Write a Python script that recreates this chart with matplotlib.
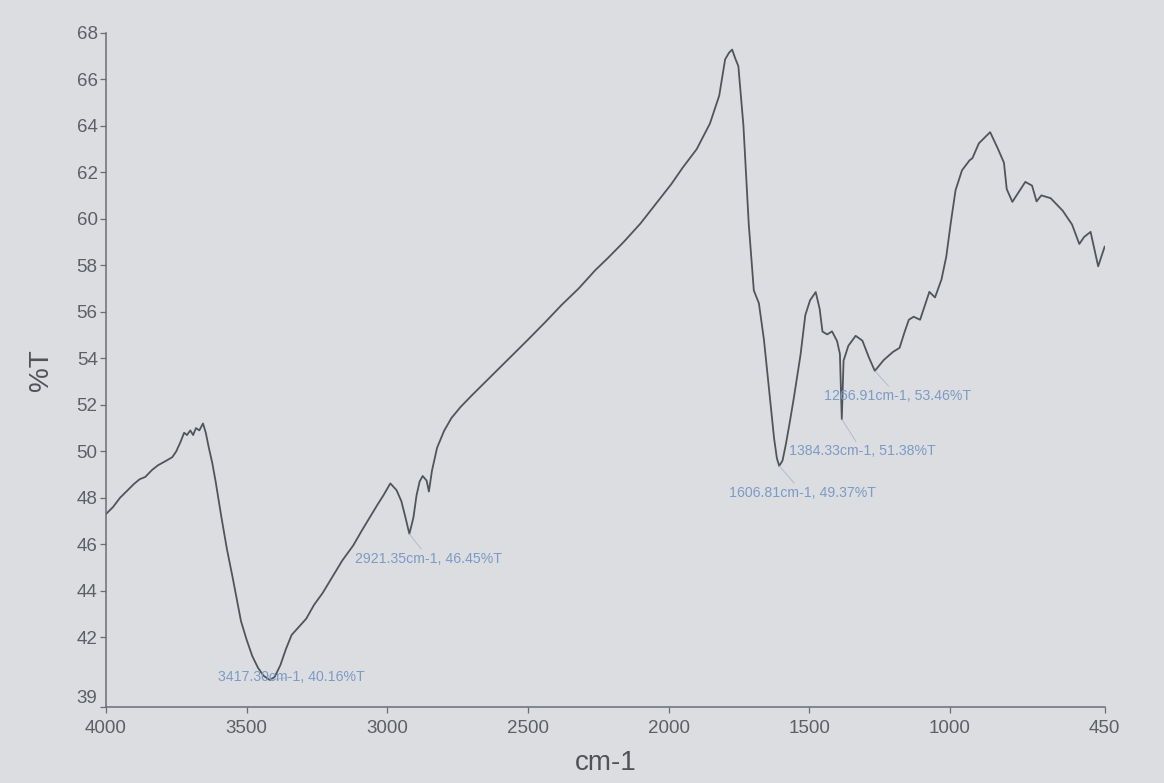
import matplotlib.pyplot as plt

# FTIR spectrum, %T against wavenumber
wavenumber = [
    4000, 3975, 3950, 3925, 3900, 3880, 3860, 3836, 3815, 3800, 3785, 3764,
    3750, 3735, 3722, 3712, 3700, 3690, 3680, 3668, 3655, 3645, 3635, 3622,
    3610, 3590, 3570, 3550, 3520, 3500, 3480, 3460, 3440, 3417.30, 3400, 3380,
    3360, 3340, 3310, 3288, 3260, 3230, 3190, 3160, 3121, 3090, 3060, 3035,
    3014, 2989, 2967, 2950, 2935, 2921.35, 2907, 2896, 2885, 2874, 2860, 2852,
    2841, 2823, 2798, 2772, 2740, 2700, 2650, 2600, 2550, 2500, 2435, 2380,
    2320, 2260, 2217, 2160, 2100, 2035, 1990, 1950, 1900, 1853, 1820, 1799,
    1785, 1774, 1763, 1752, 1734, 1715, 1697, 1679, 1661, 1643, 1625, 1615,
    1606.81, 1595, 1583, 1570, 1555, 1531, 1514, 1497, 1477, 1463, 1453, 1436,
    1419, 1401, 1391, 1384.33, 1378, 1361, 1335, 1311, 1288, 1266.91, 1235,
    1202, 1179, 1162, 1146, 1129, 1106, 1073, 1053, 1030, 1013, 997, 980, 957,
    930, 920, 897, 857, 831, 808, 798, 778, 755, 732, 708, 692, 675, 642, 599,
    566, 540, 523, 500, 473, 450,
]
transmittance = [
    47.3, 47.6, 48.0, 48.3, 48.6, 48.8, 48.9, 49.2, 49.4, 49.5, 49.6, 49.75,
    50.0, 50.4, 50.8, 50.7, 50.9, 50.7, 51.0, 50.9, 51.2, 50.8, 50.2, 49.5,
    48.7, 47.2, 45.8, 44.6, 42.7, 41.9, 41.2, 40.7, 40.35, 40.16, 40.3, 40.8,
    41.5, 42.1, 42.5, 42.8, 43.4, 43.9, 44.7, 45.3, 45.95, 46.6, 47.2, 47.7,
    48.1, 48.62, 48.33, 47.86, 47.14, 46.45, 47.15, 48.1, 48.7, 48.94, 48.74, 48.27,
    49.17, 50.15, 50.88, 51.43, 51.9, 52.4, 53.0, 53.6, 54.2, 54.8, 55.6, 56.3,
    57.0, 57.8, 58.3, 59.0, 59.8, 60.8, 61.5, 62.2, 63.0, 64.1, 65.3, 66.86,
    67.15, 67.28, 66.9, 66.57, 64.02, 59.77, 56.92, 56.37, 54.8, 52.68, 50.56, 49.7,
    49.37, 49.6, 50.31, 51.2, 52.28, 54.15, 55.86, 56.5, 56.85, 56.13, 55.15, 55.03,
    55.16, 54.74, 54.19, 51.38, 53.9, 54.54, 54.97, 54.76, 54.04, 53.46, 53.93,
    54.28, 54.45, 55.1, 55.66, 55.79, 55.66, 56.86, 56.62, 57.39, 58.37, 59.82, 61.23, 62.09,
    62.52, 62.61, 63.25, 63.73, 63.06, 62.42, 61.28, 60.73, 61.16, 61.59, 61.43, 60.75, 61.01, 60.89, 60.35,
    59.76, 58.92, 59.22, 59.44, 57.96, 58.8,
]

# picked peaks
peak_wn = [3417.30, 2921.35, 1606.81, 1384.33, 1266.91]
peak_t = [40.16, 46.45, 49.37, 51.38, 53.46]
label_offsets = [(-52, 3), (-54, -25), (-50, -27), (-53, -32), (-51, -25)]

x_ticks = [4000, 3500, 3000, 2500, 2000, 1500, 1000, 450]
y_ticks = [39, 42, 44, 46, 48, 50, 52, 54, 56, 58, 60, 62, 64, 66, 68]

plt.rcParams['font.family'] = ['Liberation Sans', 'DejaVu Sans']

paper = '#dcdde0'
ink = '#5c5f64'

fig = plt.figure(figsize=(11.64, 7.83), dpi=100, facecolor=paper)
ax = fig.add_axes([0.091, 0.097, 0.858, 0.861])
ax.set_facecolor(paper)

ax.plot(wavenumber, transmittance, color='#50545b', lw=1.3)

for wn, t, (dx, dy) in zip(peak_wn, peak_t, label_offsets):
    ax.annotate('{:.2f}cm-1, {:.2f}%T'.format(wn, t), xy=(wn, t),
                xytext=(dx, dy), textcoords='offset pixels',
                ha='left', va='center', fontsize=10.2, color='#7b9bc6',
                arrowprops=dict(arrowstyle='-', color='#aab8c8', lw=0.6,
                                shrinkA=0, shrinkB=0))

ax.set_xlim(4000, 450)
ax.set_ylim(39, 68)
ax.set_xticks(x_ticks)
ax.set_yticks(y_ticks)

for side in ['top', 'right']:
    ax.spines[side].set_visible(False)
for side in ['left', 'bottom']:
    ax.spines[side].set_color('#6a6d72')
    ax.spines[side].set_linewidth(1.1)

ax.tick_params(direction='out', length=4, width=0.9, color='#6a6d72',
               labelcolor=ink, labelsize=13.5)
ax.tick_params(axis='x', pad=5)
ax.tick_params(axis='y', pad=2)

# lift the bottom y label so it clears the first x label
ax.get_yticklabels()[0].set_verticalalignment('bottom')

ax.set_xlabel('cm-1', fontsize=20, color='#4f5257', labelpad=10)
ax.set_ylabel('%T', fontsize=20, color='#4f5257', labelpad=16)

plt.savefig('out.png', dpi=100, facecolor=paper)
